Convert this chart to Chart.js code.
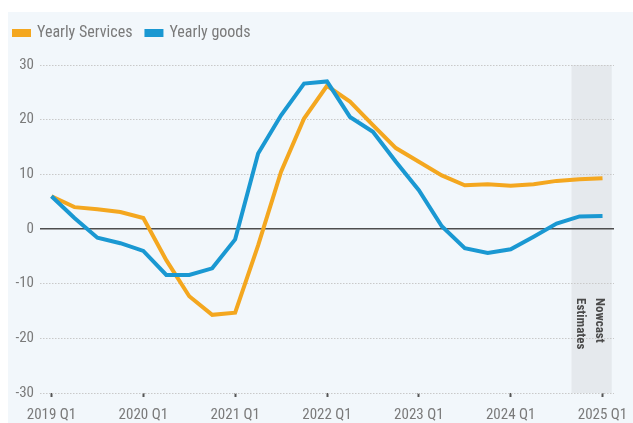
<!DOCTYPE html>
<html>
<head>
<meta charset="utf-8">
<script src="https://cdn.jsdelivr.net/npm/chart.js@4/dist/chart.umd.min.js"></script>
<style>
  html, body { margin: 0; padding: 0; background: #fff; }
  #wrap { position: relative; width: 633px; height: 423px; }
</style>
</head>
<body>
<div id="wrap"><canvas id="myChart" width="633" height="423"></canvas></div>
<script>
// quarterly, 2019 Q1 .. 2025 Q1
const quarters = [
  '2019 Q1','2019 Q2','2019 Q3','2019 Q4',
  '2020 Q1','2020 Q2','2020 Q3','2020 Q4',
  '2021 Q1','2021 Q2','2021 Q3','2021 Q4',
  '2022 Q1','2022 Q2','2022 Q3','2022 Q4',
  '2023 Q1','2023 Q2','2023 Q3','2023 Q4',
  '2024 Q1','2024 Q2','2024 Q3','2024 Q4',
  '2025 Q1'
];
const services = [6.0, 4.0, 3.6, 3.1, 2.0, -5.7, -12.3, -15.7, -15.3, -3.0, 10.5, 20.2, 26.2,
  23.3, 19.0, 14.8, 12.3, 9.8, 8.0, 8.2, 7.9, 8.2, 8.8, 9.1, 9.3];
const goods = [6.0, 2.0, -1.6, -2.6, -4.0, -8.4, -8.4, -7.2, -1.9, 13.8, 20.8, 26.6, 27.0,
  20.5, 17.8, 12.3, 7.1, 0.5, -3.5, -4.4, -3.7, -1.4, 1.0, 2.3, 2.4];
const tickLabels = ['2019 Q1', '2020 Q1', '2021 Q1', '2022 Q1', '2023 Q1', '2024 Q1', '2025 Q1'];
const yTicks = [-30, -20, -10, 0, 10, 20, 30];
const nowcastFrom = 22.65, nowcastTo = 24.4;

const FONT = "'Liberation Sans Narrow', 'Arial Narrow', 'Roboto Condensed', sans-serif";
const ORANGE = '#f4a71f';
const BLUE = '#1a98d2';

const toPoints = arr => arr.map((v, i) => ({ x: i, y: v }));

// panel background + nowcast band, under the grid
const backdrop = {
  id: 'backdrop',
  beforeDraw(chart) {
    const c = chart.ctx, a = chart.chartArea, x = chart.scales.x;
    c.save();
    c.fillStyle = '#f2f7fb';
    c.fillRect(8, 12, chart.width - 8, chart.height - 12);
    const x0 = x.getPixelForValue(nowcastFrom), x1 = x.getPixelForValue(nowcastTo);
    c.fillStyle = '#e5e9ed';
    c.fillRect(x0, a.top, x1 - x0, a.bottom - a.top);
    c.restore();
  },
  afterDraw(chart) {
    const c = chart.ctx, x = chart.scales.x;
    const x0 = x.getPixelForValue(nowcastFrom), x1 = x.getPixelForValue(nowcastTo);
    const mid = (x0 + x1) / 2;
    c.save();
    c.fillStyle = '#4a4a4a';
    c.font = 'bold 13px ' + FONT;
    c.textBaseline = 'middle';
    c.textAlign = 'left';
    [['Nowcast', mid + 8], ['Estimates', mid - 11]].forEach(([t, px]) => {
      c.save();
      c.translate(px, 298);
      c.rotate(Math.PI / 2);
      c.fillText(t, 0, 0);
      c.restore();
    });
    c.restore();
  }
};

// fixed legend height so the plot starts where it should
const legendHeight = {
  id: 'legendHeight',
  beforeInit(chart) {
    const fit = chart.legend.fit;
    chart.legend.fit = function () {
      fit.call(this);
      this.height = 54;
    };
  }
};

const ctx = document.getElementById('myChart').getContext('2d');
const chart = new Chart(ctx, {
  type: 'line',
  data: {
    datasets: [
      {
        label: 'Yearly Services',
        data: toPoints(services),
        borderColor: ORANGE,
        backgroundColor: ORANGE,
        borderWidth: 4,
        pointRadius: 0,
        tension: 0,
        order: 2
      },
      {
        label: 'Yearly goods',
        data: toPoints(goods),
        borderColor: BLUE,
        backgroundColor: BLUE,
        borderWidth: 4,
        pointRadius: 0,
        tension: 0,
        order: 1
      }
    ]
  },
  options: {
    responsive: false,
    animation: false,
    layout: { padding: { top: 11, left: 0, right: 19, bottom: 0 } },
    plugins: {
      tooltip: { enabled: false },
      legend: {
        position: 'top',
        align: 'start',
        labels: {
          boxWidth: 15,
          boxHeight: 4,
          padding: 14,
          color: '#7a7a7a',
          font: { family: FONT, size: 16 },
          sort: (a, b) => a.datasetIndex - b.datasetIndex
        }
      }
    },
    scales: {
      x: {
        type: 'linear',
        min: -0.5,
        max: 24.5,
        afterBuildTicks(scale) {
          scale.ticks = tickLabels.map((_, i) => ({ value: i * 4 }));
        },
        afterFit(scale) {
          scale.height = 30;
          scale.paddingLeft = 0;
          scale.paddingRight = 0;
        },
        ticks: {
          autoSkip: false,
          maxRotation: 0,
          padding: 9,
          color: '#7a7a7a',
          font: { family: FONT, size: 15 },
          callback: v => tickLabels[v / 4]
        },
        grid: {
          drawOnChartArea: false,
          drawTicks: true,
          tickLength: 4,
          tickWidth: 2,
          tickColor: '#555'
        },
        border: { display: false }
      },
      y: {
        min: -30,
        max: 30,
        afterBuildTicks(scale) {
          scale.ticks = yTicks.map(v => ({ value: v }));
        },
        afterFit(scale) { scale.width = 40; },
        ticks: {
          padding: 6,
          color: '#7a7a7a',
          font: { family: FONT, size: 15 }
        },
        grid: {
          drawTicks: false,
          color: c => (c.tick && c.tick.value === 0) ? '#4d4d4d' : '#c9c9c9',
          lineWidth: c => (c.tick && c.tick.value === 0) ? 1.6 : 1
        },
        border: {
          display: false,
          dash: c => (c.tick && c.tick.value === 0) ? [] : [1.5, 1.5]
        }
      }
    }
  },
  plugins: [backdrop, legendHeight]
});
</script>
</body>
</html>
